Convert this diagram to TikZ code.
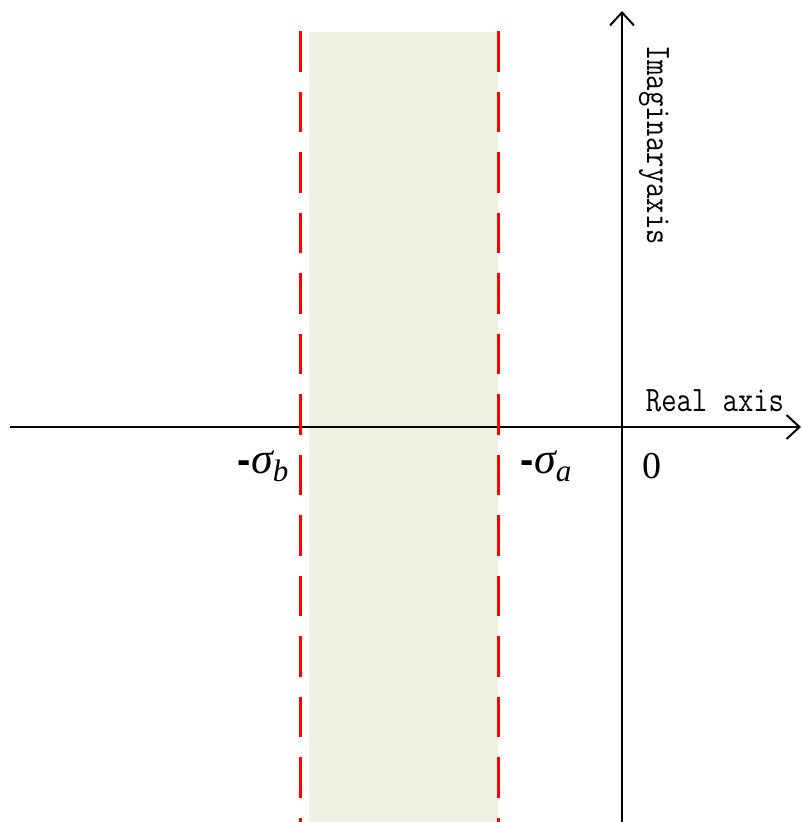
\documentclass[tikz,border=0pt]{standalone}
\usepackage{fontspec}
\setmainfont{Liberation Serif}
\newfontfamily\hyphfont{Liberation Sans}
\usetikzlibrary{arrows.meta}
\definecolor{bandfill}{RGB}{238,242,226}
\definecolor{dashred}{RGB}{255,0,0}
\newcommand\siglab[1]{{\fontsize{40}{40}\selectfont\hyphfont\bfseries -}{\fontsize{44}{44}\selectfont\itshape σ}\raisebox{-8pt}{\fontsize{31}{31}\selectfont\itshape #1}}
\tikzset{
  axisline/.style={line width=2pt, -{Straight Barb[length=13pt,width=24pt,line width=2pt]}},
  boundline/.style={draw=dashred, line width=3pt, dash pattern=on 40.5pt off 20pt},
  monolab/.style={inner sep=0pt, font=\fontsize{29.8}{30}\selectfont\ttfamily},
  mathlab/.style={inner sep=0pt},
}
\begin{document}
\begin{tikzpicture}[x=1pt,y=-1pt]
\useasboundingbox (0,0) rectangle (801,822);
\fill[bandfill] (309,32) rectangle (498,822);
\coordinate (xs) at (10,427);
\coordinate (xe) at (801,427);
\coordinate (ys) at (622,822);
\coordinate (ye) at (622,11);
\draw[axisline] (xs) -- (xe);
\draw[axisline] (ys) -- (ye);
\coordinate (b1) at (300,31);
\coordinate (b2) at (300,822);
\coordinate (a1) at (498,31);
\coordinate (a2) at (498,822);
\draw[boundline] (b1) -- (b2);
\draw[boundline] (a1) -- (a2);
\node[monolab, rotate=-90] (imag) at (654,145) {\scalebox{1}[1.2]{Imaginaryaxis}};
\node[monolab] (real) at (715,401) {\scalebox{1}[1.2]{Real axis}};
\node[mathlab] (zero) at (652,466) {\fontsize{38}{38}\selectfont 0};
\node[mathlab] (sb) at (263,466) {\siglab{b}};
\node[mathlab] (sa) at (546,466) {\siglab{a}};
\end{tikzpicture}
\end{document}
